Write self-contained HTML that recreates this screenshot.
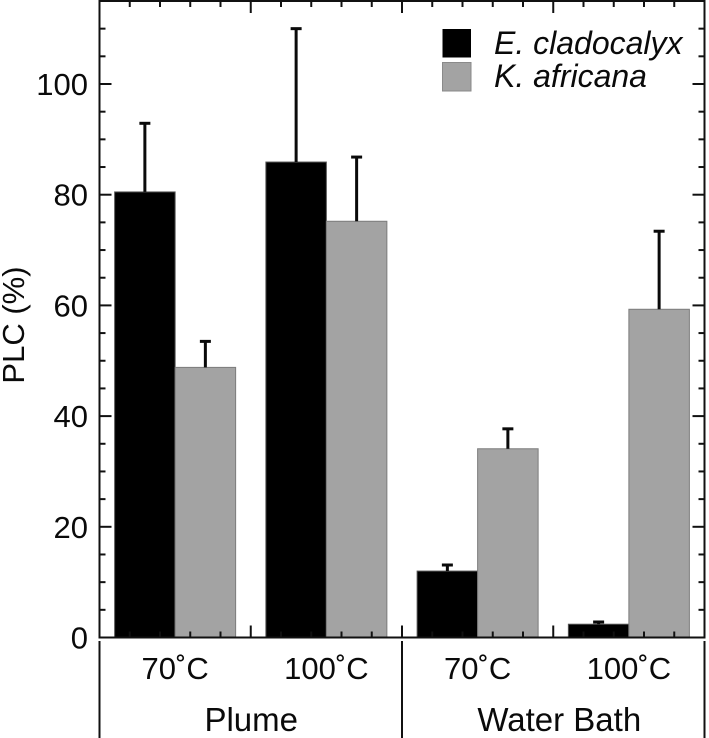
<!DOCTYPE html>
<html>
<head>
<meta charset="utf-8">
<title>PLC chart</title>
<style>
html,body{margin:0;padding:0;background:#fff;}
svg{display:block;font-family:"Liberation Sans",sans-serif;fill:#000;}
text{font-size:31px;fill:#0a0a0a;}
</style>
</head>
<body>
<svg id="chart" xmlns="http://www.w3.org/2000/svg" width="709" height="738" viewBox="0 0 709 738">
<rect x="0" y="0" width="709" height="738" fill="#fff"/>
<g id="bars"></g>
<g id="errors"></g>
<g id="axes"></g>
<g id="labels"></g>
<text transform="translate(24,325) rotate(-90)" text-anchor="middle">PLC (%)</text>
<g>
<rect x="442.5" y="29" width="28.5" height="28.5" fill="#000"/>
<rect x="442.5" y="62.5" width="28.5" height="28.5" fill="#a3a3a3" stroke="#8a8a8a" stroke-width="1"/>
<text x="494" y="54" font-style="italic" style="font-size:32px">E. cladocalyx</text>
<text x="494" y="87" font-style="italic" style="font-size:32px">K. africana</text>
</g>
</svg>
<script>
var temperatureLabels = ["70˚C", "100˚C", "70˚C", "100˚C"];
var groupLabels = ["Plume", "Water Bath"];
var cladocalyxValues = [80.5, 85.9, 12.0, 2.4];
var cladocalyxErrorTops = [92.9, 110.0, 13.1, 2.8];
var africanaValues = [48.8, 75.2, 34.1, 59.3];
var africanaErrorTops = [53.5, 86.8, 37.7, 73.4];
var yTickLabels = [0, 20, 40, 60, 80, 100];
var yMinorStep = 5;
var yAxisMax = 110;

var svgNS = "http://www.w3.org/2000/svg";
function xScale(u) { return 99.5 + u * 151.25; }
function yScale(v) { return 637.5 - v * 5.535; }
function make(tag, parent, props) {
  var el = document.createElementNS(svgNS, tag);
  for (var k in props) { el.setAttribute(k, props[k]); }
  parent.appendChild(el);
  return el;
}
var barsG = document.getElementById("bars");
var errorsG = document.getElementById("errors");
var axesG = document.getElementById("axes");
var labelsG = document.getElementById("labels");
var barWidthUnits = 0.4;

function drawSeries(values, tops, offset, fill, stroke, key) {
  values.forEach(function (v, i) {
    var x0 = xScale(i + 0.5 + offset * barWidthUnits);
    var w = barWidthUnits * 151.25;
    var rect = make("rect", barsG, { x: x0, y: yScale(v), width: w, height: yScale(0) - yScale(v), fill: fill, stroke: stroke, "stroke-width": 1 });
    
    
    var cx = x0 + w / 2;
    var stem = make("line", errorsG, { x1: cx, x2: cx, y1: yScale(v), y2: yScale(tops[i]), stroke: "#0a0a0a", "stroke-width": 3 });
    
    
    var cap = make("line", errorsG, { x1: cx - 5.5, x2: cx + 5.5, y1: yScale(tops[i]), y2: yScale(tops[i]), stroke: "#0a0a0a", "stroke-width": 3 });
    
    
  });
}
drawSeries(cladocalyxValues, cladocalyxErrorTops, -1, "#000", "#555", "e");
drawSeries(africanaValues, africanaErrorTops, 0, "#a3a3a3", "#7c7c7c", "k");

var frame = make("rect", axesG, { x: 99.5, y: 1, width: 605, height: 636.5, fill: "none", stroke: "#111", "stroke-width": 2 });



function tick(x1, y1, x2, y2, width) {
  var t = make("line", axesG, { x1: x1, y1: y1, x2: x2, y2: y2, stroke: "#111", "stroke-width": width });
  
  
}
var vTick;
for (vTick = 0; vTick <= yAxisMax; vTick += yMinorStep) {
  var len = vTick % 20 === 0 ? 12 : 6;
  tick(99.5, yScale(vTick), 99.5 + len, yScale(vTick), 2);
  tick(704.5, yScale(vTick), 704.5 - len, yScale(vTick), 2);
}
var xu;
for (xu = 0; xu <= 20; xu++) {
  var major = xu % 5 === 0;
  var lenX = major ? 12 : 6;
  if (xu === 0 || xu === 20) continue;
  var xPos = xScale(xu / 5);
  tick(xPos, 637.5, xPos, 637.5 - lenX, 2);
  tick(xPos, 1, xPos, 1 + lenX, 2);
}
[0, 2, 4].forEach(function (u) {
  var sep = make("line", axesG, { x1: xScale(u), x2: xScale(u), y1: 641, y2: 738, stroke: "#111", "stroke-width": 2 });
  
  
});

yTickLabels.forEach(function (v) {
  var t = make("text", labelsG, { x: 88, y: yScale(v) + 11, "text-anchor": "end" });
  t.textContent = v;
  
  
});
temperatureLabels.forEach(function (s, i) {
  var t = make("text", labelsG, { x: xScale(i + 0.5), y: 679, "text-anchor": "middle" });
  t.textContent = s;
  
  
});
groupLabels.forEach(function (s, i) {
  var shift = i === 0 ? 0.5 : 6;
  var t = make("text", labelsG, { x: xScale(i * 2 + 1) + shift, y: 731, "text-anchor": "middle", style: "font-size:33px" });
  t.textContent = s;
  
  
});
</script>
</body>
</html>
